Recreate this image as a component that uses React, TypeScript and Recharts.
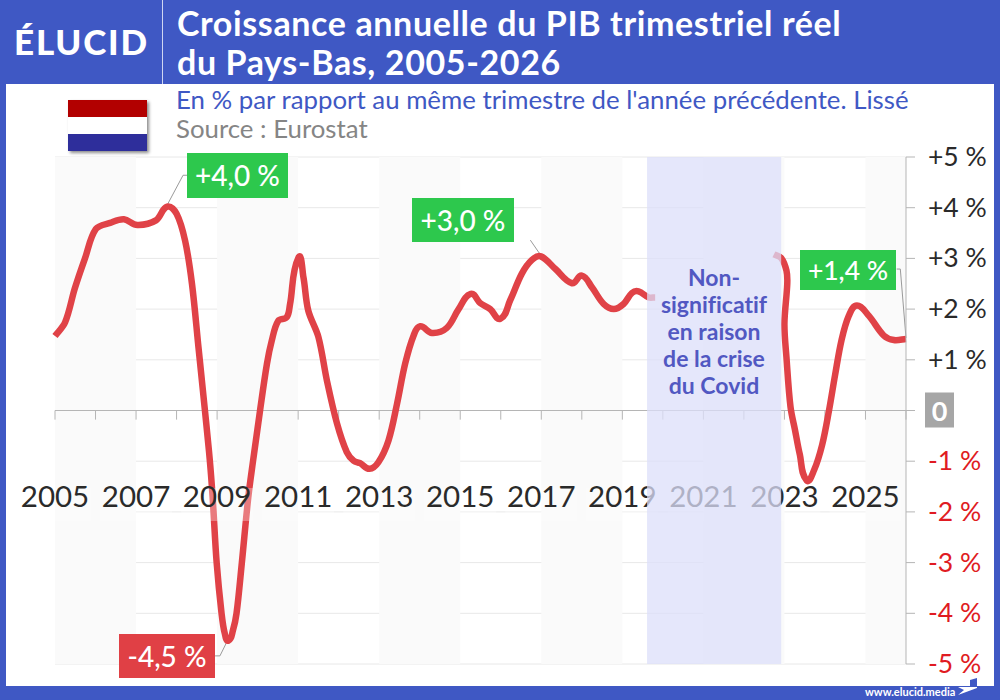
import { ComposedChart, Line, XAxis, YAxis, CartesianGrid, ReferenceArea, ReferenceLine } from 'recharts';

const BLUE = '#3F58C4';
const FONT = 'Lato, sans-serif';

// line before the covid band
const yearsBefore = [
  2005, 2005.25, 2005.49, 2005.74, 2006.01, 2006.36, 2006.7, 2007.03, 2007.49, 2007.77, 2008, 2008.21, 2008.38, 2008.54,
  2008.7, 2008.82, 2008.89, 2008.99, 2009.11, 2009.19, 2009.28, 2009.39, 2009.48, 2009.61, 2009.77, 2009.89, 2010.06, 2010.23,
  2010.35, 2010.51, 2010.72, 2010.8, 2011.01, 2011.13, 2011.25, 2011.5, 2011.71, 2011.96, 2012.2, 2012.37, 2012.53,
  2012.76, 2012.98, 2013.23, 2013.44, 2013.64, 2013.85, 2014.01, 2014.3, 2014.67, 2014.96, 2015.26, 2015.49, 2015.74,
  2015.99, 2016.23, 2016.52, 2016.77, 2016.99, 2017.35, 2017.76, 2018, 2018.25, 2018.54, 2018.79, 2019.03, 2019.24,
  2019.4, 2019.65, 2019.81,
];
const valuesBefore = [
  1.47, 1.74, 2.41, 3, 3.58, 3.7, 3.77, 3.66, 3.75, 4.02, 3.88, 3.35, 2.5, 1.25,
  0, -0.98, -1.71, -3.01, -4, -4.4, -4.54, -4.34, -4, -3.01, -1.71, -0.98, 0, 0.92,
  1.38, 1.77, 1.84, 2.1, 3.02, 2.63, 1.97, 1.45, 0.59, -0.26, -0.82, -0.99, -1.04,
  -1.15, -1.02, -0.59, 0.13, 0.92, 1.48, 1.66, 1.53, 1.63, 2, 2.3, 2.12, 2,
  1.81, 2.17, 2.7, 2.97, 3.04, 2.79, 2.51, 2.66, 2.43, 2.1, 2, 2.1, 2.32,
  2.35, 2.23, 2.23,
];

// line after the covid band
const yearsAfter = [
  2022.74, 2022.92, 2023.05, 2023.07, 2023, 2023.05, 2023.15, 2023.26, 2023.38, 2023.55, 2023.73, 2023.93,
  2024.1, 2024.25, 2024.41, 2024.59, 2024.79, 2025.08, 2025.45, 2025.7, 2026,
];
const valuesAfter = [
  3.08, 3.01, 2.76, 2.5, 1.71, 1.05, 0.07, -0.38, -0.87, -1.38, -1.18, -0.68,
  0, 0.7, 1.39, 1.87, 2.07, 1.87, 1.48, 1.39, 1.41,
];

const yTicks = [5, 4, 3, 2, 1, 0, -1, -2, -3, -4, -5];
const xLabels = [2005, 2007, 2009, 2011, 2013, 2015, 2017, 2019, 2021, 2023, 2025];
const xMarks = [
  2005, 2006, 2007, 2008, 2009, 2010, 2011, 2012, 2013, 2014, 2015, 2016, 2017, 2018, 2019, 2020, 2021, 2022, 2023,
  2024, 2025, 2026,
];
const shadedStarts = [2005, 2009, 2013, 2017, 2021, 2025];
const covidBand = [2019.61, 2022.92];

// thin lines from the callouts to the curve: [year, value, year, value]
const leaders = [
  [2007.78, 4.07, 2008.16, 4.64],
  [2008.16, 4.64, 2008.26, 4.64],
  [2016.98, 3.07, 2016.73, 3.36],
  [2025.77, 2.79, 2025.86, 2.79],
  [2025.86, 2.79, 2026, 1.43],
  [2008.95, -4.84, 2009.07, -4.84],
  [2009.07, -4.84, 2009.25, -4.55],
];

const before = yearsBefore.map((year, i) => ({ year, value: valuesBefore[i] }));
const after = yearsAfter.map((year, i) => ({ year, value: valuesAfter[i] }));

// the original line bends back on itself after 2023, so x can't be assumed to increase:
// smooth the path with tangents scaled to each segment's length
const smoothCurve = (ctx: any) => {
  let pts: number[][] = [];
  const tangent = (a: number[], b: number[]) => {
    const dx = b[0] - a[0];
    const dy = b[1] - a[1];
    const len = Math.hypot(dx, dy) || 1;
    return [dx / len, dy / len];
  };
  return {
    areaStart() {},
    areaEnd() {},
    lineStart() {
      pts = [];
    },
    point(x: number, y: number) {
      pts.push([+x, +y]);
    },
    lineEnd() {
      ctx.moveTo(pts[0][0], pts[0][1]);
      for (let i = 0; i < pts.length - 1; i++) {
        const p0 = pts[i - 1] || pts[i];
        const p1 = pts[i];
        const p2 = pts[i + 1];
        const p3 = pts[i + 2] || p2;
        const t1 = tangent(p0, p2);
        const t2 = tangent(p1, p3);
        const d = Math.hypot(p2[0] - p1[0], p2[1] - p1[1]) / 3;
        ctx.bezierCurveTo(p1[0] + t1[0] * d, p1[1] + t1[1] * d, p2[0] - t2[0] * d, p2[1] - t2[1] * d, p2[0], p2[1]);
      }
    },
  };
};

const formatTick = (v: number) => (v > 0 ? `+${v} %` : `${v} %`);

const XLabel = ({ x, y, payload }: any) => (
  <g>
    <rect x={x - 36} y={y - 184} width={72} height={33} fill="#fff" fillOpacity={0.3} />
    <text x={x} y={y - 157} textAnchor="middle" fontSize={29.5} fontFamily={FONT} fill="#2a2a2a" dy={-8}>
      {payload.value}
    </text>
  </g>
);

const YLabel = ({ x, y, payload }: any) => {
  const v = payload.value;
  if (v === 0) {
    return (
      <g>
        <rect x={x + 8} y={y - 18} width={29} height={35} fill="#A6A6A6" />
        <text x={x + 22.5} y={y + 10} textAnchor="middle" fontSize={27} fontWeight={700} fontFamily={FONT} fill="#fff">
          0
        </text>
      </g>
    );
  }
  return (
    <text x={x + 11} y={y + 9} fontSize={26.5} fontFamily={FONT} fill={v > 0 ? '#2a2a2a' : '#E01B22'}>
      {formatTick(v)}
    </text>
  );
};

const Callout = ({ left, top, width, height, bg, text, size = 28 }: any) => (
  <div
    style={{
      position: 'absolute', left, top, width, height, background: bg, color: '#fff', fontSize: size,
      lineHeight: `${height}px`, textAlign: 'center', fontWeight: 500,
    }}
  >
    {text}
  </div>
);

export default function App() {
  return (
    <div style={{ position: 'absolute', left: 0, top: 0, width: 1000, height: 700, background: BLUE, overflow: 'hidden', fontFamily: FONT }}>
      <div style={{ position: 'absolute', left: 6, top: 84, width: 988, height: 602, background: '#fff' }} />
      <div style={{ position: 'absolute', left: 162, top: 0, width: 1, height: 84, background: '#cfd6f2' }} />
      <div style={{ position: 'absolute', left: 14, top: 20, color: '#fff', fontSize: 35, fontWeight: 900, letterSpacing: 1.8 }}>ÉLUCID</div>
      <div style={{ position: 'absolute', left: 177, top: 3, color: '#fff', fontSize: 34, fontWeight: 700, lineHeight: '39px', letterSpacing: 0.62, whiteSpace: 'nowrap' }}>
        Croissance annuelle du PIB trimestriel réel
        <br />
        du Pays-Bas, 2005-2026
      </div>
      <div style={{ position: 'absolute', left: 176, top: 84, color: BLUE, fontSize: 25.8, whiteSpace: 'nowrap' }}>
        En % par rapport au même trimestre de l'année précédente. Lissé
      </div>
      <div style={{ position: 'absolute', left: 176, top: 113, color: '#858585', fontSize: 25.8, whiteSpace: 'nowrap' }}>Source : Eurostat</div>

      <div style={{ position: 'absolute', left: 68, top: 100, width: 79, height: 51, boxShadow: '2px 2px 3px rgba(0,0,0,0.45)' }}>
        <div style={{ height: 17, background: '#B20000' }} />
        <div style={{ height: 17, background: '#fff' }} />
        <div style={{ height: 17, background: '#2E2E9B' }} />
      </div>

      <div style={{ position: 'absolute', left: 0, top: 0 }}>
        <ComposedChart width={1000} height={700} margin={{ top: 157, right: 0, bottom: 35, left: 55 }} data={before}>
          {shadedStarts.map((start) => (
            <ReferenceArea key={start} x1={start} x2={Math.min(start + 2, 2026)} fill="#FAFAFA" fillOpacity={1} stroke="none" />
          ))}
          <CartesianGrid stroke="#E8E8E8" vertical={false} />
          <XAxis
            dataKey="year"
            type="number"
            domain={[2005, 2026]}
            ticks={xLabels}
            height={1}
            axisLine={false}
            tickLine={false}
            tick={XLabel}
            interval={0}
          />
          <YAxis
            orientation="right"
            type="number"
            domain={[-5, 5]}
            ticks={yTicks}
            width={94}
            axisLine={{ stroke: '#B5B5B5' }}
            tickLine={{ stroke: '#B5B5B5' }}
            tickSize={9}
            tick={YLabel}
            interval={0}
          />
          <ReferenceLine y={0} stroke="#B5B5B5" />
          {xMarks.map((mark) => (
            <ReferenceLine key={mark} segment={[{ x: mark, y: 0 }, { x: mark, y: -0.18 }]} stroke="#B5B5B5" />
          ))}
          {leaders.map((l, i) => (
            <ReferenceLine key={i} segment={[{ x: l[0], y: l[1] }, { x: l[2], y: l[3] }]} stroke="#9A9A9A" ifOverflow="visible" />
          ))}
          <Line data={before} dataKey="value" type={smoothCurve as any} stroke="#E04247" strokeWidth={6.5} dot={false} isAnimationActive={false} />
          <Line data={after} dataKey="value" type={smoothCurve as any} stroke="#E04247" strokeWidth={6.5} dot={false} isAnimationActive={false} />
          <ReferenceArea x1={covidBand[0]} x2={covidBand[1]} fill="#DCDFFA" fillOpacity={0.75} stroke="none" zIndex={5000} />
        </ComposedChart>
      </div>

      <div
        style={{
          position: 'absolute', left: 647, top: 264, width: 134, textAlign: 'center', color: '#5158C2', fontSize: 23,
          fontWeight: 700, lineHeight: '27px', fontVariantLigatures: 'none',
        }}
      >
        Non-
        <br />
        significatif
        <br />
        en raison
        <br />
        de la crise
        <br />
        du Covid
      </div>

      <Callout left={187} top={153} width={101} height={45} bg="#2DC84D" text="+4,0 %" />
      <Callout left={412} top={198} width={102} height={44} bg="#2DC84D" text="+3,0 %" />
      <Callout left={800} top={250} width={96} height={40} bg="#2DC84D" text="+1,4 %" size={26.5} />
      <Callout left={119} top={634} width={96} height={44} bg="#E04045" text="-4,5 %" />

      <div style={{ position: 'absolute', left: 865, top: 685, color: '#fff', fontSize: 11, fontWeight: 700, lineHeight: '14px' }}>www.elucid.media</div>
      <svg style={{ position: 'absolute', left: 958, top: 678 }} width={20} height={18}>
        <polygon points="12,2 19,0 19,8 12,8" fill={BLUE} />
        <polygon points="0,9 19,9 19,10 0,17 6,12" fill="#fff" />
      </svg>
    </div>
  );
}
